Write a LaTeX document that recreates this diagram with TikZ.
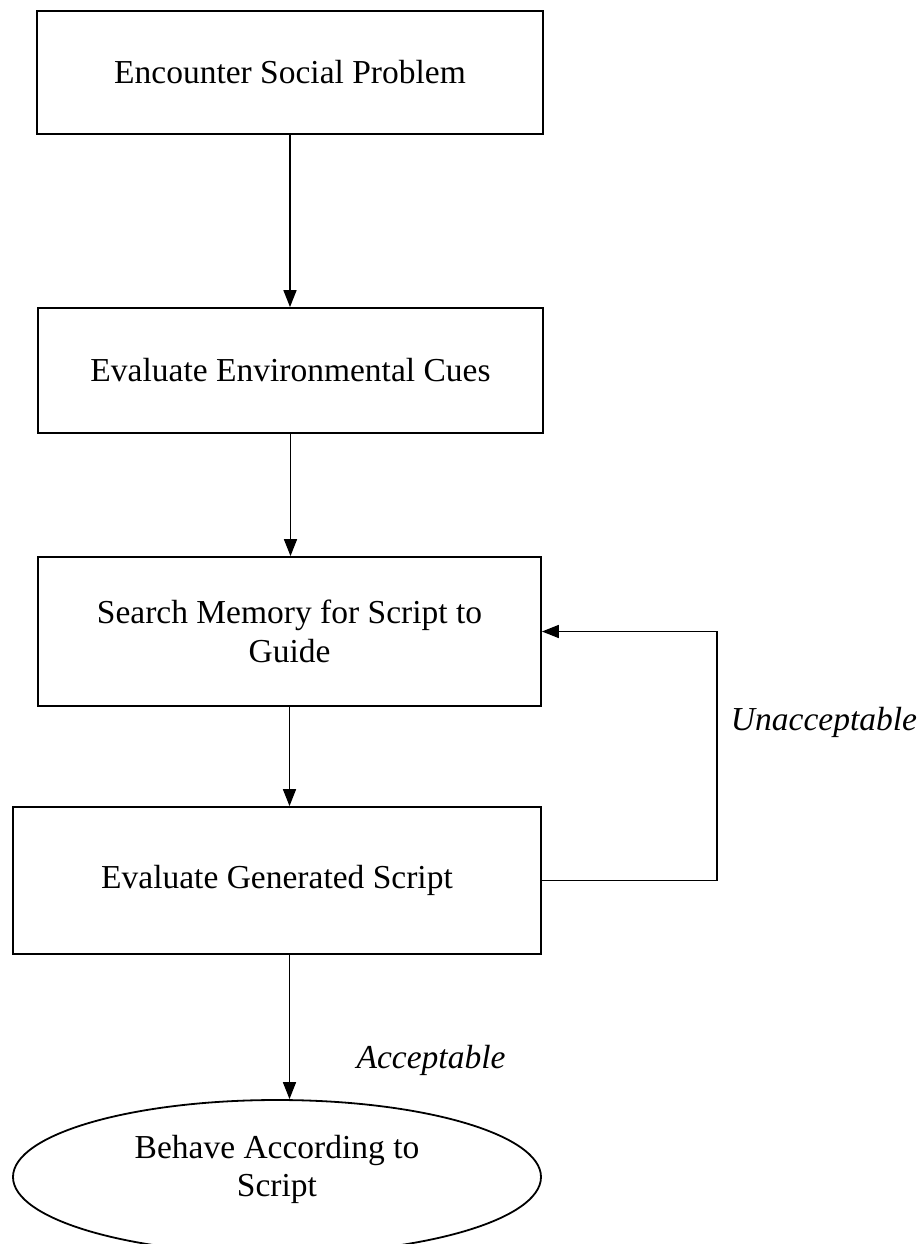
\documentclass[tikz,border=0pt]{standalone}
\usepackage{fontspec}
\setmainfont{Liberation Serif}
\usetikzlibrary{arrows.meta,shapes.geometric}

\begin{document}
\begin{tikzpicture}[x=1pt, y=-1pt,
        every node/.style={font=\fontsize{33.5}{38.5}\selectfont},
        stage/.style={draw=black, line width=1.8pt, rectangle, align=center},
        goal/.style={draw=black, line width=1.8pt, ellipse, align=center},
        flow/.style={line width=1.6pt, -{Triangle[length=17pt, width=13pt]}}]
        \useasboundingbox (0,0) rectangle (923,1244);
        \node[stage, minimum width=506pt, minimum height=123pt] (esp) at (290,72.5)
        {Encounter Social Problem};
        \node[stage, minimum width=505pt, minimum height=125pt] (eec) at (290.5,370.5)
        {Evaluate Environmental Cues};
        \node[stage, minimum width=503pt, minimum height=149pt] (smg) at (289.5,631.5)
        {Search Memory for Script to\\Guide};
        \node[stage, minimum width=528pt, minimum height=147pt] (egs) at (277,880.5)
        {Evaluate Generated Script};
        \node[goal, minimum width=528pt, minimum height=154pt, inner sep=0pt] (bas) at (277,1177)
        {Behave According to\\Script\\[-16pt]};
        \coordinate (loop) at (717,880.5);
        \draw[flow] (esp.south) -- (esp.south |- eec.north);
        \draw[flow] (eec.south) -- (eec.south |- smg.north);
        \draw[flow] (smg.south) -- (smg.south |- egs.north);
        \draw[flow] (smg.south |- egs.south) -- (smg.south |- bas.north);
        \draw[flow] (egs.east) -- (loop) |- (smg.east);
        \node (unacc) at (824,722) {\textit{Unacceptable}};
        \node (acc) at (431,1060) {\textit{Acceptable}};
    \end{tikzpicture}
\end{document}
